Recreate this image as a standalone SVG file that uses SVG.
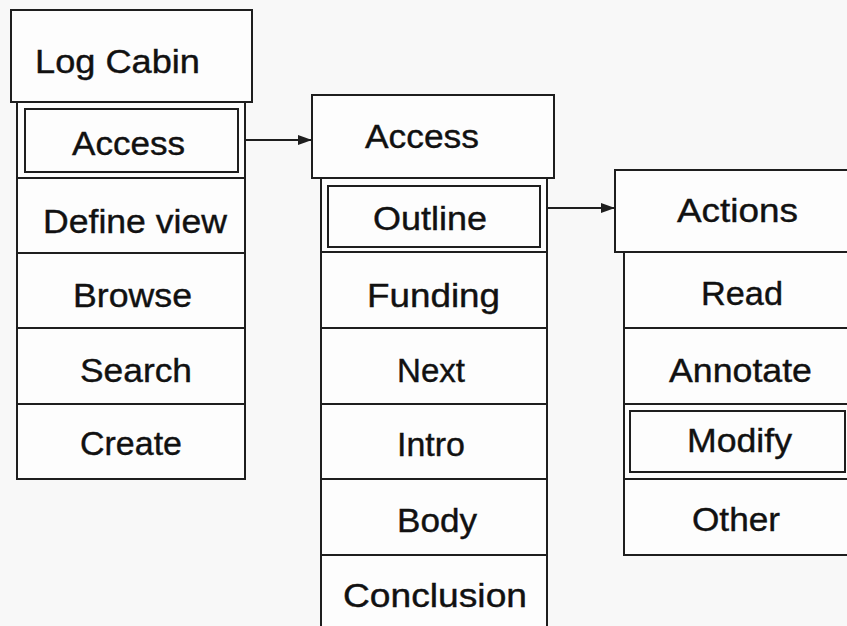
<svg xmlns="http://www.w3.org/2000/svg" width="847" height="626" viewBox="0 0 847 626">
  <style>
    .box { fill: #fdfdfd; stroke: #1e1e1e; stroke-width: 2; }
    .sel { fill: none; stroke: #1e1e1e; stroke-width: 2; }
    .div { stroke: #1e1e1e; stroke-width: 2; }
    .lbl { font-family: "Liberation Sans", Arial, Helvetica, sans-serif; font-size: 33px; fill: #111; stroke: #111; stroke-width: 0.4; }
    .edge { stroke: #1e1e1e; stroke-width: 2; fill: none; marker-end: url(#arrow); }
  </style>
  <defs>
    <marker id="arrow" viewBox="0 0 14 10" refX="14" refY="5" markerWidth="14" markerHeight="10" markerUnits="userSpaceOnUse" orient="auto">
      <path d="M0,0 L14,5 L0,10 z" fill="#1e1e1e"/>
    </marker>
  </defs>
  <rect width="847" height="626" fill="#f8f8f8"/>

  <!-- Log Cabin menu -->
  <g id="menu-logcabin">
    <rect class="box" x="17" y="102" width="228" height="377"/>
    <line class="div" x1="17" y1="178" x2="245" y2="178"/>
    <line class="div" x1="17" y1="253" x2="245" y2="253"/>
    <line class="div" x1="17" y1="328" x2="245" y2="328"/>
    <line class="div" x1="17" y1="404" x2="245" y2="404"/>
    <rect class="box" x="11" y="10" width="241" height="92"/>
    <rect class="sel" x="25" y="109" width="213" height="63"/>
    <text class="lbl" x="35" y="73" textLength="165" lengthAdjust="spacingAndGlyphs">Log Cabin</text>
    <text class="lbl" x="72" y="155" textLength="113" lengthAdjust="spacingAndGlyphs">Access</text>
    <text class="lbl" x="43" y="233" textLength="184" lengthAdjust="spacingAndGlyphs">Define view</text>
    <text class="lbl" x="73" y="307" textLength="119" lengthAdjust="spacingAndGlyphs">Browse</text>
    <text class="lbl" x="80" y="382" textLength="112" lengthAdjust="spacingAndGlyphs">Search</text>
    <text class="lbl" x="80" y="455" textLength="102" lengthAdjust="spacingAndGlyphs">Create</text>
  </g>

  <!-- Access menu -->
  <g id="menu-access">
    <rect class="box" x="321" y="178" width="226" height="460"/>
    <line class="div" x1="321" y1="252" x2="547" y2="252"/>
    <line class="div" x1="321" y1="328" x2="547" y2="328"/>
    <line class="div" x1="321" y1="404" x2="547" y2="404"/>
    <line class="div" x1="321" y1="479" x2="547" y2="479"/>
    <line class="div" x1="321" y1="555" x2="547" y2="555"/>
    <rect class="box" x="312" y="95" width="242" height="83"/>
    <rect class="sel" x="328" y="186" width="212" height="61"/>
    <text class="lbl" x="365" y="148" textLength="114" lengthAdjust="spacingAndGlyphs">Access</text>
    <text class="lbl" x="373" y="230" textLength="114" lengthAdjust="spacingAndGlyphs">Outline</text>
    <text class="lbl" x="367" y="307" textLength="133" lengthAdjust="spacingAndGlyphs">Funding</text>
    <text class="lbl" x="397" y="382" textLength="68" lengthAdjust="spacingAndGlyphs">Next</text>
    <text class="lbl" x="397" y="456" textLength="68" lengthAdjust="spacingAndGlyphs">Intro</text>
    <text class="lbl" x="397" y="532" textLength="80" lengthAdjust="spacingAndGlyphs">Body</text>
    <text class="lbl" x="343" y="607" textLength="184" lengthAdjust="spacingAndGlyphs">Conclusion</text>
  </g>

  <!-- Actions menu -->
  <g id="menu-actions">
    <rect class="box" x="624" y="252" width="240" height="303"/>
    <line class="div" x1="624" y1="328" x2="864" y2="328"/>
    <line class="div" x1="624" y1="404" x2="864" y2="404"/>
    <line class="div" x1="624" y1="479" x2="864" y2="479"/>
    <rect class="box" x="615" y="170" width="250" height="82"/>
    <rect class="sel" x="630" y="411" width="215" height="61"/>
    <text class="lbl" x="677" y="222" textLength="121" lengthAdjust="spacingAndGlyphs">Actions</text>
    <text class="lbl" x="701" y="305" textLength="82" lengthAdjust="spacingAndGlyphs">Read</text>
    <text class="lbl" x="669" y="382" textLength="143" lengthAdjust="spacingAndGlyphs">Annotate</text>
    <text class="lbl" x="687" y="452" textLength="105" lengthAdjust="spacingAndGlyphs">Modify</text>
    <text class="lbl" x="692" y="531" textLength="88" lengthAdjust="spacingAndGlyphs">Other</text>
  </g>

  <!-- connectors -->
  <g id="connectors">
    <line class="edge" x1="245" y1="140" x2="312" y2="140"/>
    <line class="edge" x1="547" y1="208" x2="615" y2="208"/>
  </g>
</svg>
